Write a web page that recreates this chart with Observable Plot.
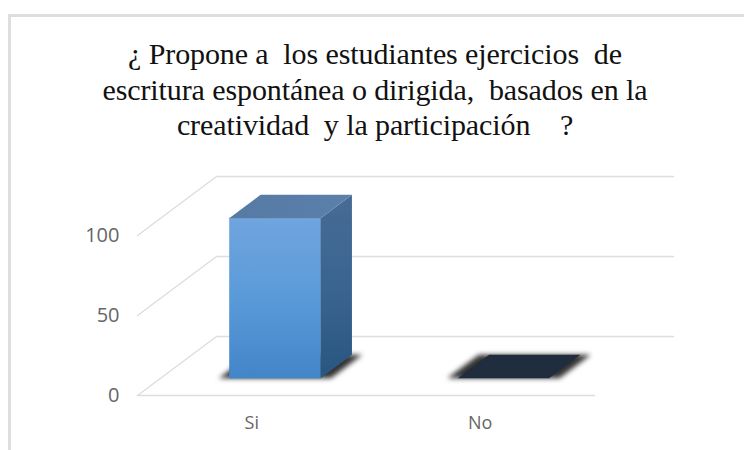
<!DOCTYPE html>
<html><head><meta charset="utf-8">
<script src="https://cdn.jsdelivr.net/npm/d3@7"></script>
<script src="https://cdn.jsdelivr.net/npm/@observablehq/plot@0.6"></script>
<style>
html,body{margin:0;padding:0;background:#fff;width:744px;height:450px;overflow:hidden}
#frame{position:absolute;left:8px;top:14px;width:736px;height:436px;border-left:3px solid #dedede;border-top:3px solid #dedede;box-sizing:border-box;pointer-events:none}
#title{height:165px;box-sizing:border-box;padding-top:36px;text-align:center;font:30px/35.5px "Liberation Serif",serif;color:#111;white-space:pre;width:750px;letter-spacing:-0.1px}
#chart svg{display:block}
</style></head><body>
<div id="frame"></div>
<div id="title"></div>
<div id="chart"></div>
<script>
const titleLines = ["¿ Propone a  los estudiantes ejercicios  de", "escritura espontánea o dirigida,  basados en la", "creatividad  y la participación    ?"];
const categories = ["Si", "No"];
const values = [100, 0];
const yTicks = [0, 50, 100];
const barWidth = 0.4;
const depthFront = 0.293, depthBack = 0.69;
const depthX = 0.3457, depthY = 36.875;

document.getElementById("title").textContent = titleLines.join("\n");

const px = (i, d) => i + d * depthX;
const py = (v, d) => v + d * depthY;
const pt = (i, d, v) => ({x: px(i, d), y: py(v, d)});

const grid = [];
yTicks.forEach(t => {
  grid.push({...pt(0, 0, t), k: "g" + t}, {...pt(0, 1, t), k: "g" + t}, {...pt(2, 1, t), k: "g" + t});
});
grid.push({...pt(0, 0, 0), k: "floor"}, {...pt(2, 0, 0), k: "floor"});

const faces = {front: [], side: [], top: [], shadow: []};
values.forEach((v, n) => {
  const a = n + 0.5 - barWidth / 2, b = n + 0.5 + barWidth / 2, e = 0.045;
  const add = (f, pts) => pts.forEach(p => faces[f].push({...p, k: n}));
  add("shadow", [pt(a - e, depthFront, 0), pt(b + e, depthFront, 0), pt(b + e, depthBack, 0), pt(a - e, depthBack, 0)]);
  if (v > 0) {
    add("front", [pt(a, depthFront, 0), pt(b, depthFront, 0), pt(b, depthFront, v), pt(a, depthFront, v)]);
    add("side", [pt(b, depthFront, 0), pt(b, depthBack, 0), pt(b, depthBack, v), pt(b, depthFront, v)]);
  }
});
const topSi = [], topNo = [];
values.forEach((v, n) => {
  const a = n + 0.5 - barWidth / 2, b = n + 0.5 + barWidth / 2;
  (v > 0 ? topSi : topNo).push(pt(a, depthFront, v), pt(b, depthFront, v), pt(b, depthBack, v), pt(a, depthBack, v));
});

const face = (data, fill, extra = {}) => Plot.line(data, {x: "x", y: "y", z: "k", fill, stroke: "none", ...extra});

const chart = Plot.plot({
  width: 744, height: 285,
  marginLeft: 137, marginRight: 150, marginTop: 70, marginBottom: 55,
  x: {domain: [0, 2]}, y: {domain: [0, 100]},
  marks: [
    Plot.line(grid, {x: "x", y: "y", z: "k", stroke: "#dedede", strokeWidth: 1.5}),
    face(faces.shadow, "#333", {imageFilter: "blur(2.5px)"}),
    face(faces.front, "url(#gFront)", {stroke: "#5a90c6", strokeWidth: 0.6}),
    face(faces.side, "url(#gSide)"),
    face(topSi.map(p => ({...p, k: 0})), "url(#gTop)"),
    face(topNo.map(p => ({...p, k: 1})), "#1f2d3f"),
    Plot.axisY({ticks: yTicks, tickSize: 0, tickPadding: 18, fontSize: 20, color: "#666", label: null, fontFamily: "Open Sans", dy: 0}),
    Plot.axisX({ticks: [0.5, 1.5], tickFormat: d => categories[d - 0.5], tickSize: 0, tickPadding: 21, fontSize: 18, color: "#666", label: null, fontFamily: "Open Sans"})
  ]
});
const defs = d3.select(chart).append("defs");
const grad = (id, x2, y2, stops) => {
  const g = defs.append("linearGradient").attr("id", id).attr("x1", 0).attr("y1", 0).attr("x2", x2).attr("y2", y2);
  stops.forEach(([o, c]) => g.append("stop").attr("offset", o).attr("stop-color", c));
};
grad("gFront", 0, 1, [[0, "#70a5de"], [0.5, "#5a9ad9"], [1, "#4285c8"]]);
grad("gSide", 0, 1, [[0, "#476b94"], [0.5, "#3a6591"], [1, "#28567f"]]);
grad("gTop", 1, 0, [[0, "#557aa4"], [1, "#5c80ac"]]);
document.getElementById("chart").appendChild(chart);
</script>
</body></html>
